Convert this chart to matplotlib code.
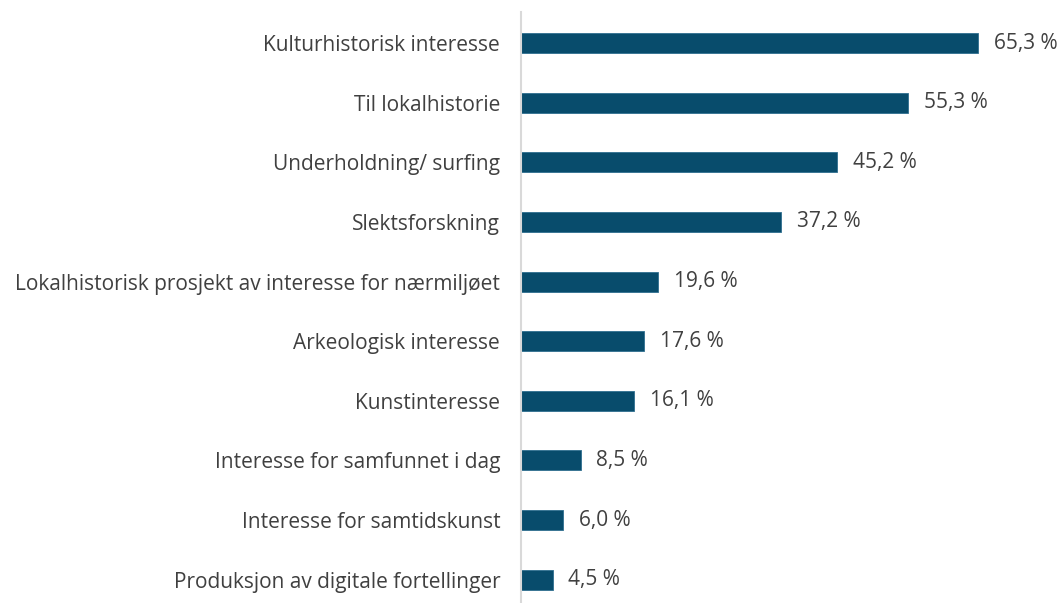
import matplotlib
matplotlib.use("Agg")
import matplotlib.pyplot as plt

categories = [
    "Kulturhistorisk interesse",
    "Til lokalhistorie",
    "Underholdning/ surfing",
    "Slektsforskning",
    "Lokalhistorisk prosjekt av interesse for nærmiljøet",
    "Arkeologisk interesse",
    "Kunstinteresse",
    "Interesse for samfunnet i dag",
    "Interesse for samtidskunst",
    "Produksjon av digitale fortellinger",
]
values = [65.3, 55.3, 45.2, 37.2, 19.6, 17.6, 16.1, 8.5, 6.0, 4.5]

plt.rcParams['font.family'] = ['Open Sans', 'DejaVu Sans']

W, H = 1062, 603
fig = plt.figure(figsize=(W / 100, H / 100), dpi=100)
ax = fig.add_axes([521 / W, 0, (1011 - 521) / W, (603 - 12) / H])

ypos = list(range(len(categories)))
ax.barh(ypos, values, height=0.335, color="#084C6C", edgecolor="#2F6F8F", linewidth=0.6)
ax.set_xlim(0, 70)
ax.set_ylim(9.39, -0.52)

for y, v in zip(ypos, values):
    ax.annotate(f"{v:.1f} %".replace(".", ","), (v, y), xytext=(11.5, 0),
                textcoords="offset points", va="center", ha="left",
                fontsize=15, color="#404040")

ax.set_yticks(ypos)
ax.set_yticklabels(categories, fontsize=15, color="#404040")
ax.tick_params(axis="y", length=0, pad=15)
ax.set_xticks([])
for s in ["top", "right", "bottom"]:
    ax.spines[s].set_visible(False)
ax.spines["left"].set_color("#D9D9D9")
ax.spines["left"].set_linewidth(1.5)

fig.savefig("out.png", dpi=100)
